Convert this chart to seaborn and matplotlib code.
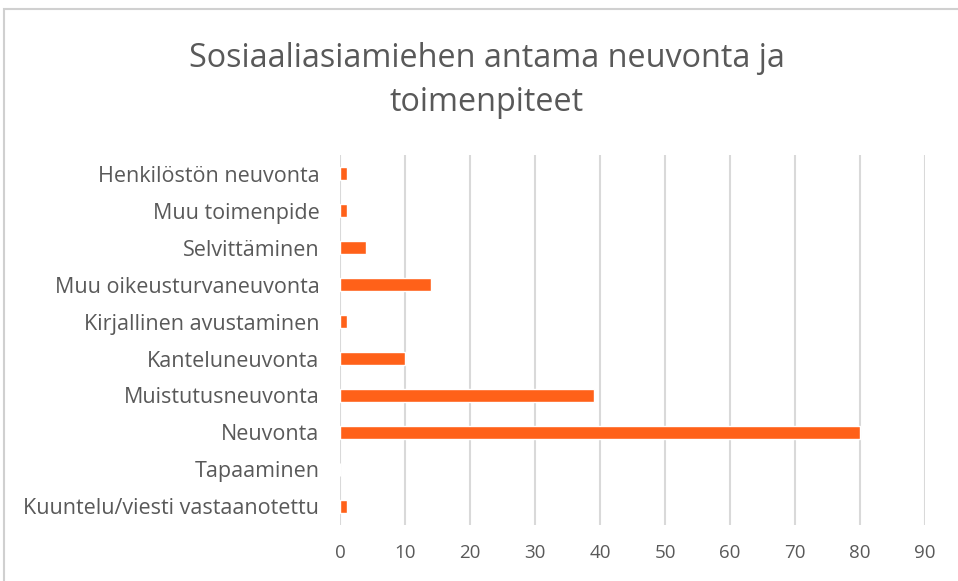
import matplotlib
matplotlib.use("Agg")
import matplotlib.pyplot as plt
import pandas as pd
import seaborn as sns
from matplotlib.patches import Rectangle

categories = [
    "Henkilöstön neuvonta",
    "Muu toimenpide",
    "Selvittäminen",
    "Muu oikeusturvaneuvonta",
    "Kirjallinen avustaminen",
    "Kanteluneuvonta",
    "Muistutusneuvonta",
    "Neuvonta",
    "Tapaaminen",
    "Kuuntelu/viesti vastaanotettu",
]
values = [1, 1, 4, 14, 1, 10, 39, 80, 0, 1]
x_ticks = [0, 10, 20, 30, 40, 50, 60, 70, 80, 90]
title = "Sosiaaliasiamiehen antama neuvonta ja\ntoimenpiteet"

df = pd.DataFrame({"kategoria": categories, "maara": values})

sns.set_theme(style="white")
plt.rcParams["font.family"] = ["Open Sans", "DejaVu Sans"]
text_col = "#595959"
grid_col = "#d9d9d9"

fig = plt.figure(figsize=(9.58, 5.81), dpi=100)
ax = fig.add_axes([0.355, 0.0964, 0.6106, 0.6368])

sns.barplot(data=df, x="maara", y="kategoria", orient="h", color="#FF6119",
            width=0.35, saturation=1, ax=ax, zorder=3)

ax.set_xlim(0, 90)
ax.set_ylim(9.5, -0.5)
ax.set_xticks(x_ticks)
ax.set_xticklabels([str(t) for t in x_ticks])
ax.xaxis.grid(True, color=grid_col, linewidth=1.5, zorder=0)
ax.set_axisbelow(True)
for s in ax.spines.values():
    s.set_visible(False)
ax.set_xlabel("")
ax.set_ylabel("")
ax.tick_params(axis="x", length=0, pad=14, labelsize=13.5, labelcolor=text_col)
ax.tick_params(axis="y", length=0, pad=15, labelsize=15.5, labelcolor=text_col)

fig.text(0.508, 0.861, title, ha="center", va="center", fontsize=23.3,
         color=text_col, linespacing=1.45)

fig.patches.append(Rectangle((0.004, -0.01), 1.5, 0.995, transform=fig.transFigure,
                             fill=False, edgecolor="#d0d0d0", linewidth=1.5))

fig.savefig("out.png", dpi=100, facecolor="white")
